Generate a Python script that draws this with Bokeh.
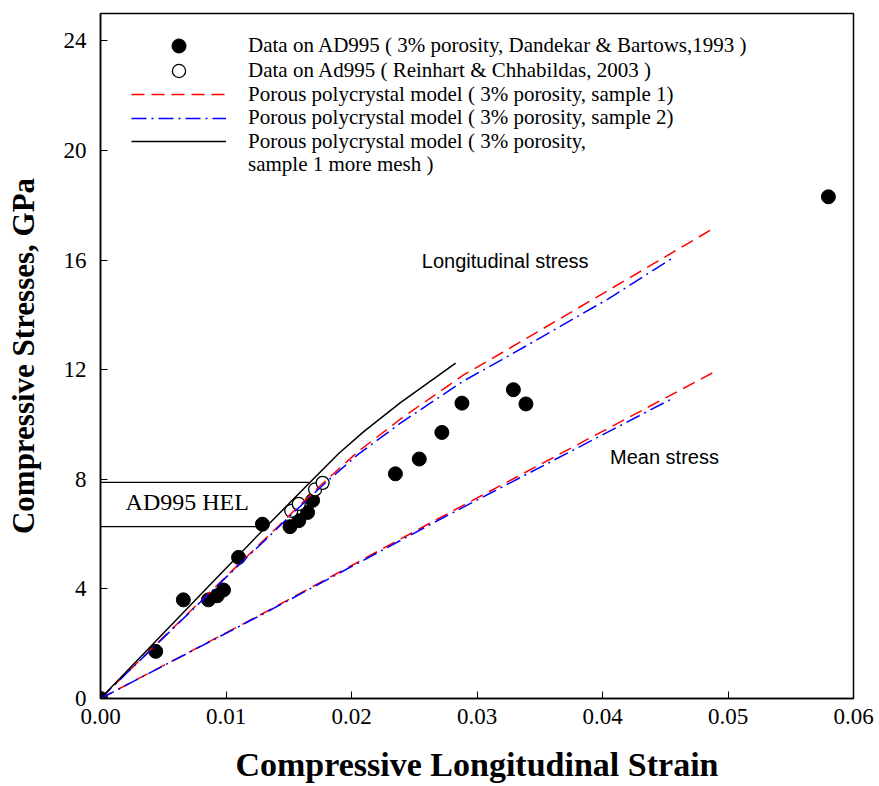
from bokeh.plotting import figure
from bokeh.models import (Range1d, FixedTicker, NumeralTickFormatter, Legend,
                          LegendItem, Label)
from bokeh.embed import file_html
from bokeh.resources import INLINE

# Shock data on AD995 alumina, Dandekar & Bartows (1993)
db_strain = [0.0, 0.0044, 0.0066, 0.0086, 0.0093, 0.0098, 0.0110, 0.0129,
             0.0151, 0.0158, 0.0165, 0.0169, 0.0235, 0.0254, 0.0272, 0.0288,
             0.0329, 0.0339, 0.0580]
db_stress = [0.0, 1.72, 3.60, 3.60, 3.75, 3.96, 5.15, 6.36, 6.27, 6.49,
             6.79, 7.23, 8.20, 8.74, 9.71, 10.78, 11.27, 10.75, 18.31]

# Reinhart & Chhabildas (2003)
rc_strain = [0.0152, 0.0158, 0.0171, 0.0177]
rc_stress = [6.85, 7.10, 7.63, 7.87]

# Porous polycrystal model, sample 1: longitudinal and mean stress
s1_long_strain = [0.0, 0.0050, 0.0100, 0.0138, 0.0153, 0.0178, 0.0205,
                  0.0239, 0.0289, 0.0327, 0.0404, 0.0490]
s1_long_stress = [0.0, 2.23, 4.45, 6.12, 6.80, 7.89, 9.00, 10.20, 11.80,
                  12.81, 14.88, 17.20]
s1_mean_strain = [0.0, 0.0126, 0.0271, 0.0490]
s1_mean_stress = [0.0, 3.02, 6.61, 11.94]

# Porous polycrystal model, sample 2
s2_long_strain = [0.0, 0.0050, 0.0100, 0.0138, 0.0153, 0.0178, 0.0205,
                  0.0239, 0.0289, 0.0327, 0.0404, 0.0455]
s2_long_stress = [0.0, 2.21, 4.42, 6.08, 6.75, 7.82, 8.90, 10.05, 11.58,
                  12.55, 14.57, 16.05]
s2_mean_strain = [0.0, 0.0126, 0.0271, 0.0457]
s2_mean_stress = [0.0, 3.00, 6.55, 10.98]

# Sample 1 with a finer mesh
fine_strain = [0.0, 0.0090, 0.0132, 0.0167, 0.0190, 0.0210, 0.0239, 0.0283]
fine_stress = [0.0, 4.28, 6.27, 7.89, 8.95, 9.75, 10.80, 12.24]

# Hugoniot elastic limit band (lower / upper level and where each line stops)
hel_stress = [6.27, 7.89]
hel_strain_end = [0.0127, 0.0166]

x_ticks = [0.0, 0.01, 0.02, 0.03, 0.04, 0.05, 0.06]
y_ticks = [0, 4, 8, 12, 16, 20, 24]

SERIF = "Liberation Serif"
SANS = "Liberation Sans"

FRAME_H = 685  # plot area height in px (786 - top 13 - bottom 88)

p = figure(width=879, height=786, output_backend="svg", toolbar_location=None,
           x_range=Range1d(0, 0.06), y_range=Range1d(0, 25),
           min_border_left=100, min_border_right=26, min_border_top=13,
           min_border_bottom=88)
p.grid.visible = False
p.outline_line_color = "black"
p.outline_line_width = 1.5
p.background_fill_color = "white"
p.border_fill_color = "white"

for ax in (p.xaxis[0], p.yaxis[0]):
    ax.axis_line_width = 1.5
    ax.major_tick_in = 7
    ax.major_tick_out = 0
    ax.minor_tick_in = 0
    ax.minor_tick_out = 0
    ax.major_label_text_font = SERIF
    ax.major_label_text_font_size = "23px"
    ax.major_label_text_color = "black"
    ax.axis_label_text_font = SERIF
    ax.axis_label_text_font_style = "bold"
    ax.axis_label_text_color = "black"

p.xaxis.ticker = FixedTicker(ticks=x_ticks)
p.xaxis.formatter = NumeralTickFormatter(format="0.00")
p.yaxis.ticker = FixedTicker(ticks=y_ticks)
p.xaxis.major_label_standoff = 10
p.yaxis.major_label_standoff = 14
p.xaxis.axis_label = "Compressive Longitudinal Strain"
p.xaxis.axis_label_text_font_size = "34px"
p.xaxis.axis_label_standoff = 19
p.yaxis.axis_label = "Compressive Stresses, GPa"
p.yaxis.axis_label_text_font_size = "31px"
p.yaxis.axis_label_standoff = 20

# HEL band
p.segment(x0=[0.0, 0.0], y0=hel_stress, x1=hel_strain_end, y1=hel_stress,
          line_color="black", line_width=1.2)

# Measurements
r_db = p.scatter(db_strain, db_stress, size=14, marker="circle",
                 fill_color="black", line_color="black")
r_rc = p.scatter(rc_strain, rc_stress, size=13, marker="circle",
                 fill_color="white", line_color="black", line_width=1.3)

# Model curves
r_s1 = p.line(s1_long_strain, s1_long_stress, line_color="red",
              line_width=1.5, line_dash="13 7")
r_s1m = p.line(s1_mean_strain, s1_mean_stress, line_color="red",
               line_width=1.5, line_dash="13 7")
r_s2 = p.line(s2_long_strain, s2_long_stress, line_color="blue",
              line_width=1.5, line_dash="15 5 2 5")
r_s2m = p.line(s2_mean_strain, s2_mean_stress, line_color="blue",
               line_width=1.5, line_dash="15 5 2 5")
r_fine = p.line(fine_strain, fine_stress, line_color="black", line_width=1.5)

# empty, invisible renderer that carries the wrapped second line of a label
r_blank = p.line([], [], line_alpha=0)

# Text annotations
p.add_layout(Label(x=0.0256, y=15.95, text="Longitudinal stress",
                   text_font=SANS, text_font_size="20px",
                   text_baseline="middle", text_color="black"))
p.add_layout(Label(x=0.0406, y=8.8, text="Mean stress",
                   text_font=SANS, text_font_size="20px",
                   text_baseline="middle", text_color="black"))
p.add_layout(Label(x=0.002, y=7.18, text="AD995 HEL",
                   text_font=SERIF, text_font_size="24px",
                   text_baseline="middle", text_color="black"))

# Key: one row per entry so that each row sits at its own height
legend_rows = [
    ("Data on AD995 ( 3% porosity, Dandekar & Bartows,1993 )", r_db, 32, 35),
    ("Data on Ad995 ( Reinhart & Chhabildas, 2003 )", r_rc, 57, 33),
    ("Porous polycrystal model ( 3% porosity, sample 1)", r_s1, 81, 30),
    ("Porous polycrystal model ( 3% porosity, sample 2)", r_s2, 104.5, 30),
    ("Porous polycrystal model ( 3% porosity,", r_fine, 128, 30),
    ("sample 1 more mesh )", r_blank, 151, 30),
]
for label, renderer, center_from_top, glyph_h in legend_rows:
    p.add_layout(Legend(
        items=[LegendItem(label=label, renderers=[renderer])],
        location=(31, FRAME_H - center_from_top - glyph_h / 2),
        padding=0, margin=0, spacing=0,
        glyph_width=95, glyph_height=glyph_h, label_height=20,
        label_standoff=22, label_text_font=SERIF,
        label_text_font_size="21px", label_text_color="black",
        border_line_alpha=0, background_fill_alpha=0,
    ))

open("out.html", "w").write(file_html(p, INLINE))
